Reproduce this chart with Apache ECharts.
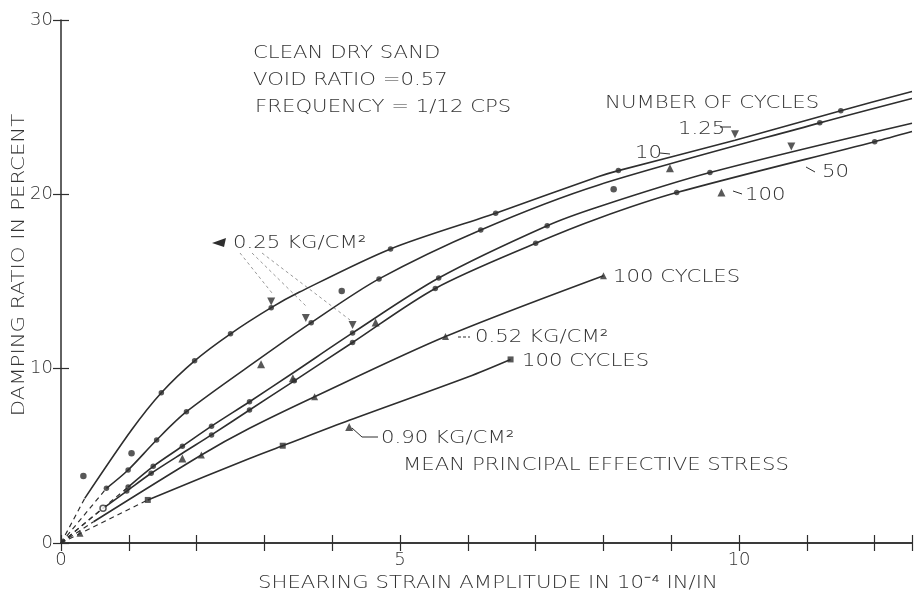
<!DOCTYPE html>
<html>
<head>
<meta charset="utf-8">
<script src="https://cdn.jsdelivr.net/npm/echarts@6/dist/echarts.min.js"></script>
<style>
html,body{margin:0;padding:0;background:#fff;}
#chart{width:915px;height:596px;}
</style>
</head>
<body>
<div id="chart"></div>
<script>
// ---- data (strain in 1e-4 in/in, damping ratio in percent) ----
const xTickLabels = [0, 5, 10];
const yTickLabels = [0, 10, 20, 30];

// 0.25 kg/cm2 curves, by number of cycles
const curve125 = [[0.35,2.56],[1.04,6.48],[1.48,8.62],[1.97,10.45],[2.5,12.0],[3.1,13.5],[3.51,14.38],[4.86,16.87],[6.41,18.92],[7.93,21.02],[8.22,21.36],[9.94,23.1],[11.5,24.8],[12.55,25.9]];
const curve10  = [[0.67,3.14],[0.99,4.19],[1.41,5.91],[1.85,7.53],[2.95,10.63],[3.69,12.64],[4.69,15.15],[6.19,17.96],[7.93,20.54],[11.19,24.1],[12.55,25.5]];
const curve50  = [[0.99,3.21],[1.36,4.4],[1.79,5.55],[2.22,6.7],[2.78,8.1],[3.42,9.75],[4.30,12.05],[5.57,15.2],[7.17,18.2],[7.93,19.29],[9.57,21.25],[12.55,24.08]];
const curve100 = [[0.62,1.99],[0.97,2.98],[1.33,4.0],[1.79,5.15],[2.22,6.2],[2.78,7.63],[3.44,9.3],[4.30,11.5],[5.52,14.6],[7.0,17.19],[7.93,18.63],[9.08,20.1],[12.0,23.02],[12.55,23.6]];
// 0.52 and 0.90 kg/cm2, 100 cycles
const curve052 = [[0.48,1.22],[2.07,5.05],[2.78,6.58],[3.74,8.39],[5.67,11.84],[8.0,15.33]];
const curve090 = [[1.28,2.47],[2.78,4.85],[3.27,5.58],[4.25,7.04],[6.01,9.54],[6.63,10.53]];

// measured points (dots)
const dots125 = [[1.48,8.62],[1.97,10.45],[2.5,12.0],[3.1,13.5],[4.86,16.87],[6.41,18.92],[8.22,21.36],[11.5,24.8]];
const dots10  = [[0.67,3.14],[0.99,4.19],[1.41,5.91],[1.85,7.53],[3.69,12.64],[4.69,15.15],[6.19,17.96],[11.19,24.1]];
const dots50  = [[0.99,3.21],[1.36,4.4],[1.79,5.55],[2.22,6.7],[2.78,8.1],[4.30,12.05],[5.57,15.2],[7.17,18.2],[9.57,21.25]];
const dots100 = [[0.97,2.98],[1.33,4.0],[2.22,6.2],[2.78,7.63],[3.44,9.3],[4.30,11.5],[5.52,14.6],[7.0,17.19],[9.08,20.1],[12.0,23.02]];
const dotsLoose = [[0.33,3.84],[1.04,5.15],[4.14,14.46],[8.15,20.29]];
const openDots = [[0.62,1.99]];
const tri052 = [[0.28,0.56],[2.07,5.05],[3.74,8.39],[5.67,11.84],[8.0,15.33]];
const sq090 = [[1.28,2.47],[3.27,5.58],[6.63,10.53]];
// arrow pointers on curves
const arrowsDown = [[3.1,13.85],[3.61,12.9],[4.3,12.5],[9.94,23.45],[10.77,22.75]];
const arrowsUp = [[2.95,10.25],[3.42,9.45],[4.64,12.65],[8.98,21.5],[9.74,20.1],[4.25,6.65],[1.79,4.85]];

const ink = '#2e2e2e';
const txt = '#333';
const FONT = '"DejaVu Sans", "Liberation Sans", sans-serif';
const SX = 1.18;

const chart = echarts.init(document.getElementById('chart'), null, {renderer:'canvas'});

function solid(d){ return {type:'line', data:d, smooth:0.3, showSymbol:false, symbol:'none', silent:true,
  lineStyle:{color:ink, width:1.6}, z:3}; }
function dashed(d){ return {type:'line', data:[[0,0], d[0]], showSymbol:false, symbol:'none', silent:true,
  lineStyle:{color:ink, width:1.2, type:[5,4]}, z:3}; }
function pts(d, sym, size, extra){ return Object.assign({type:'scatter', data:d, symbol:sym, symbolSize:size, silent:true,
  itemStyle:{color:ink}, z:5}, extra||{}); }

const curves = [curve125, curve10, curve50, curve100, curve052, curve090];
const series = [];
curves.forEach(c => { series.push(solid(c)); series.push(dashed(c)); });
series.push(pts(dots125,'circle',5.5));
series.push(pts(dots10,'circle',5.5));
series.push(pts(dots50,'circle',5.5));
series.push(pts(dots100,'circle',5.5));
series.push(pts(dotsLoose,'circle',6.5));
series.push(pts(openDots,'circle',6,{itemStyle:{color:'#fff', borderColor:ink, borderWidth:1.5}}));
series.push(pts(tri052,'triangle',7));
series.push(pts(sq090,'rect',6));
series.push(pts(arrowsDown,'triangle',8,{symbolRotate:180}));
series.push(pts(arrowsUp,'triangle',8));

const axisLineStyle = {color:ink, width:1.5};
const t = (text, x, y) => ({type:'text', x:x, y:y, scaleX:SX, silent:true,
  style:{text:text, fill:txt, font:'300 18px ' + FONT, verticalAlign:'middle'}});
const ln = (x1,y1,x2,y2,dash,col) => ({type:'line', silent:true, shape:{x1,y1,x2,y2},
  style:{stroke:col||ink, lineWidth:1, lineDash:dash||null}});

chart.setOption({
  animation:false,
  backgroundColor:'#fff',
  grid:{left:61, top:20, width:853.4, height:523, containLabel:false},
  xAxis:[
    {type:'value', min:0, max:12.55, interval:1, position:'bottom',
     axisLine:{show:true, lineStyle:axisLineStyle},
     axisTick:{show:true, inside:true, length:8, lineStyle:{color:ink, width:1.2}},
     axisLabel:{show:true, margin:8, color:txt, fontSize:18, fontFamily:FONT, fontWeight:300,
       formatter:v => xTickLabels.indexOf(v) >= 0 ? String(v) : ''},
     splitLine:{show:false}},
    {type:'value', min:0, max:12.55, interval:1, position:'top',
     axisLine:{show:true, lineStyle:axisLineStyle},
     axisTick:{show:true, inside:true, length:8, lineStyle:{color:ink, width:1.2}},
     axisLabel:{show:false}, splitLine:{show:false}}
  ],
  yAxis:[
    {type:'value', min:0, max:30, interval:10, position:'left',
     axisLine:{show:true, lineStyle:axisLineStyle},
     axisTick:{show:true, inside:true, length:8, lineStyle:{color:ink, width:1.2}},
     axisLabel:{show:true, margin:8, color:txt, fontSize:18, fontFamily:FONT, fontWeight:300,
       formatter:v => yTickLabels.indexOf(v) >= 0 ? String(v) : ''},
     splitLine:{show:false}},
    {type:'value', min:0, max:30, interval:10, position:'right',
     axisLine:{show:false},
     axisTick:{show:true, inside:true, length:8, lineStyle:{color:ink, width:1.2}},
     axisLabel:{show:false}, splitLine:{show:false}}
  ],
  series: series,
  graphic:[
    {type:'text', x:19, y:265, rotation:Math.PI/2, scaleX:SX, silent:true,
     style:{text:'DAMPING RATIO IN PERCENT', fill:txt, font:'300 18px ' + FONT, align:'center', verticalAlign:'middle'}},
    t('SHEARING STRAIN AMPLITUDE IN 10⁻⁴ IN/IN', 258, 583),
    t('CLEAN DRY SAND', 253, 53),
    t('VOID RATIO =0.57', 253, 80),
    t('FREQUENCY = 1/12 CPS', 255, 107),
    t('NUMBER OF CYCLES', 605, 103),
    t('1.25', 678, 129), ln(720,127,731,127),
    t('10', 635, 153), ln(660,153,670,154),
    t('50', 822, 172), ln(806,167,815,172),
    t('100', 745, 195), ln(733,191,742,194),
    t('0.25 KG/CM²', 233, 243),
    {type:'polygon', silent:true, shape:{points:[[212,243],[226,238],[224,247]]}, style:{fill:ink}},
    ln(240,253,272,293,[3,3],'#999'), ln(252,253,306,306,[3,3],'#999'), ln(262,253,350,320,[3,3],'#999'),
    t('0.52 KG/CM²', 475, 337), ln(458,337,470,337,[3,2]),
    t('100 CYCLES', 613, 277),
    t('100 CYCLES', 522, 361),
    t('0.90 KG/CM²', 381, 438),
    {type:'polyline', silent:true, shape:{points:[[352,428],[362,437],[378,437]]}, style:{stroke:ink, lineWidth:1, fill:null}},
    t('MEAN PRINCIPAL EFFECTIVE STRESS', 403, 465)
  ]
});
</script>
</body>
</html>
